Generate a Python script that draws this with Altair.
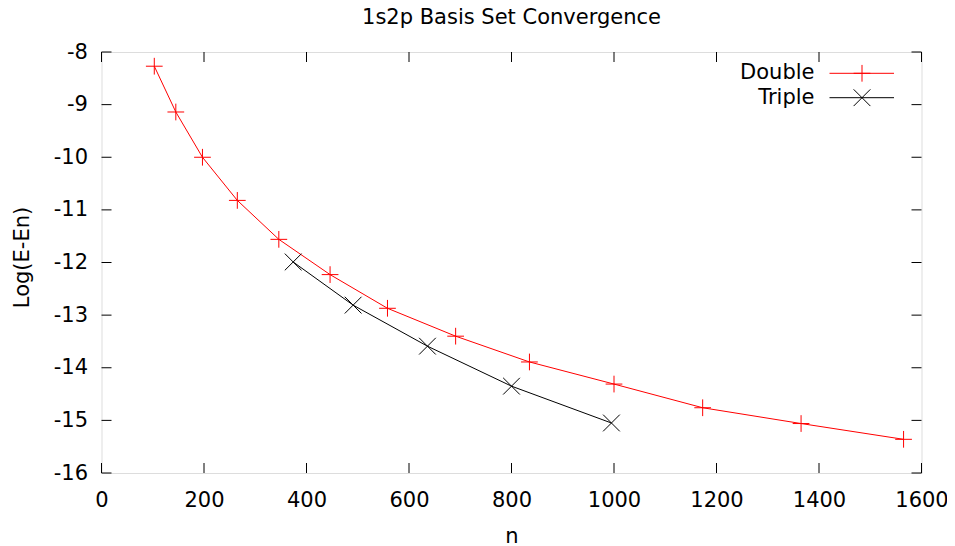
import altair as alt
import pandas as pd

# ---- data ----
title_text = "1s2p Basis Set Convergence"
series_names = ["Double", "Triple"]
double_n = [103, 145, 197, 265, 346, 446, 558, 691, 835, 1000, 1173, 1365, 1565]
double_log = [-8.27, -9.14, -10.0, -10.82, -11.56, -12.23, -12.87, -13.40, -13.89,
              -14.31, -14.76, -15.06, -15.36]
triple_n = [374, 491, 636, 800, 995]
triple_log = [-11.99, -12.81, -13.59, -14.35, -15.05]
x_ticks = [0, 200, 400, 600, 800, 1000, 1200, 1400, 1600]
y_ticks = [-8, -9, -10, -11, -12, -13, -14, -15, -16]

# ---- styling ----
colors = ["#ff0000", "#000000"]
PLUS = "M-1,0L1,0M0,-1L0,1"
CROSS = "M-1,-1L1,1M-1,1L1,-1"
shapes = [PLUS, CROSS]
W, H = 820, 421
FONT = "DejaVu Sans"
FS = 21
TICK = 10

df = pd.concat([
    pd.DataFrame({"n": double_n, "log": double_log, "series": series_names[0]}),
    pd.DataFrame({"n": triple_n, "log": triple_log, "series": series_names[1]}),
], ignore_index=True)

xscale = alt.Scale(domain=[x_ticks[0], x_ticks[-1]], nice=False, zero=False)
yscale = alt.Scale(domain=[min(y_ticks), max(y_ticks)], nice=False, zero=False)

xaxis = alt.Axis(values=x_ticks, domain=False, ticks=False, tickSize=0, grid=False,
                 labelPadding=16, labelFontSize=FS, labelFont=FONT, labelColor="black",
                 labelFlush=False, labelOverlap=False, labelExpr="'' + datum.value",
                 title="n", titleFont=FONT, titleFontSize=FS, titleFontWeight="normal",
                 titleColor="black", titleX=W / 2, titleY=69, titleAlign="center",
                 titleBaseline="alphabetic")
yaxis = alt.Axis(values=y_ticks, domain=False, ticks=False, tickSize=0, grid=False,
                 labelPadding=14, labelFontSize=FS, labelFont=FONT, labelColor="black",
                 labelFlush=False, labelOverlap=False, labelBaseline="middle",
                 labelExpr="'' + datum.value",
                 title="Log(E-En)", titleFont=FONT, titleFontSize=FS, titleFontWeight="normal",
                 titleColor="black", titleX=-73.5, titleY=205, titleAlign="center",
                 titleBaseline="alphabetic", titleAngle=270)

xenc = alt.X("n:Q", scale=xscale, axis=xaxis)
yenc = alt.Y("log:Q", scale=yscale, axis=yaxis)
cenc = alt.Color("series:N", scale=alt.Scale(domain=series_names, range=colors), legend=None)
senc = alt.Shape("series:N", scale=alt.Scale(domain=series_names, range=shapes), legend=None)

xt = pd.DataFrame({"n": x_ticks})
yt = pd.DataFrame({"log": y_ticks})

tick_bottom = alt.Chart(xt).mark_rule(color="black", strokeWidth=1).encode(
    x=xenc, y=alt.value(H), y2=alt.value(H - TICK))
tick_top = alt.Chart(xt).mark_rule(color="black", strokeWidth=1).encode(
    x=xenc, y=alt.value(0), y2=alt.value(TICK))
tick_left = alt.Chart(yt).mark_rule(color="black", strokeWidth=1).encode(
    y=yenc, x=alt.value(0), x2=alt.value(TICK))
tick_right = alt.Chart(yt).mark_rule(color="black", strokeWidth=1).encode(
    y=yenc, x=alt.value(W), x2=alt.value(W - TICK))

lines = alt.Chart(df).mark_line(strokeWidth=1).encode(x=xenc, y=yenc, color=cenc)
points = alt.Chart(df).mark_point(filled=False, size=280, strokeWidth=1, opacity=1).encode(
    x=xenc, y=yenc, color=cenc, shape=senc)

# ---- title as a text mark above the frame ----
title_layer = alt.Chart(pd.DataFrame({"t": [title_text]})).mark_text(
    align="center", baseline="alphabetic", font=FONT, fontSize=FS, color="black",
    clip=False).encode(text="t:N", x=alt.value(W / 2), y=alt.value(-28))

# ---- gnuplot-style key (label left of sample) ----
legend_layers = []
legend_y = [21.3, 45.7]
for i, name in enumerate(series_names):
    ldf = pd.DataFrame({"series": [name]})
    legend_layers.append(alt.Chart(ldf).mark_text(
        align="right", baseline="middle", font=FONT, fontSize=FS, color="black").encode(
        text="series:N", x=alt.value(713), y=alt.value(legend_y[i])))
    legend_layers.append(alt.Chart(ldf).mark_rule(color=colors[i], strokeWidth=1).encode(
        x=alt.value(728), x2=alt.value(792.5), y=alt.value(legend_y[i])))
    legend_layers.append(alt.Chart(ldf).mark_point(
        shape=shapes[i], size=280, filled=False, strokeWidth=1, opacity=1,
        color=colors[i]).encode(x=alt.value(760.5), y=alt.value(legend_y[i])))

chart = alt.layer(
    tick_bottom, tick_top, tick_left, tick_right, lines, points, title_layer, *legend_layers
).properties(
    width=W, height=H,
    padding={"left": 93.5, "top": 44, "right": 25.5, "bottom": 73},
    autosize=alt.AutoSizeParams(type="none"),
).configure_view(stroke="black", strokeWidth=1).configure(background="white")

chart.save("out.html", embed_options={"renderer": "svg", "actions": False})
